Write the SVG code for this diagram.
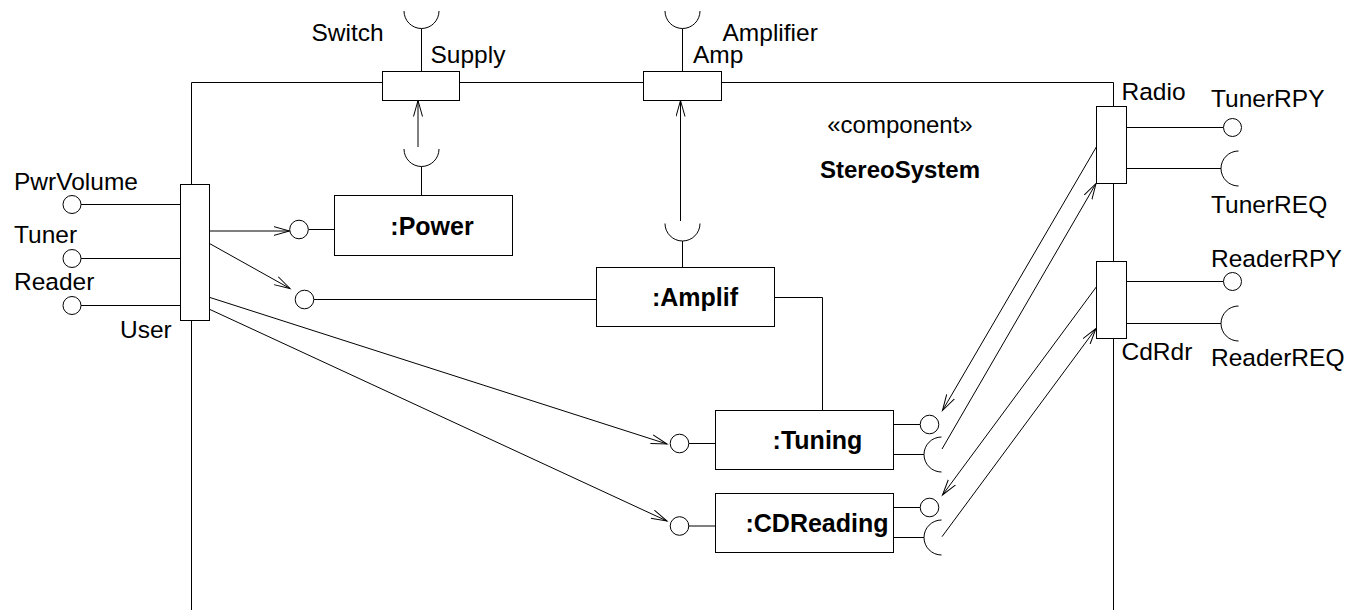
<svg xmlns="http://www.w3.org/2000/svg" width="1350" height="610" viewBox="0 0 1350 610">
  <style>
    .ln { fill: none; stroke: #000; stroke-width: 1; }
    .bx { fill: #fff; stroke: #000; stroke-width: 1; }
    .lol { fill: #fff; stroke: #000; stroke-width: 1; }
    .lbl { font-family: "Liberation Sans", Arial, Helvetica, sans-serif; font-size: 24.5px; fill: #000; }
    .nm { font-family: "Liberation Sans", Arial, Helvetica, sans-serif; font-size: 25px; font-weight: bold; fill: #000; }
    .ttl { font-size: 24px; }
    .mid { text-anchor: middle; }
  </style>
  <defs>
    <!-- open (stick) arrowhead used for delegation connectors -->
    <marker id="open" markerUnits="userSpaceOnUse" markerWidth="20" markerHeight="12" refX="16" refY="5" orient="auto">
      <path d="M0,0.5 L16,5 L0,9.5" fill="none" stroke="#000" stroke-width="1"/>
    </marker>
  </defs>

  <rect x="0" y="0" width="1350" height="610" fill="#fff"/>

  <!-- StereoSystem component boundary -->
  <g id="stereo-system">
    <path class="ln" d="M191.5,610 V82.5 H1113.5 V610"/>
    <text class="lbl ttl mid" x="900" y="133">«component»</text>
    <text class="nm ttl mid" x="900" y="178">StereoSystem</text>
  </g>

  <!-- connectors -->
  <g id="connectors">
    <!-- User port delegations -->
    <path class="ln" d="M209.5,231 L289.5,231" marker-end="url(#open)"/>
    <path class="ln" d="M209.5,243.5 L290,288.5" marker-end="url(#open)"/>
    <path class="ln" d="M210,297.5 L667,444" marker-end="url(#open)"/>
    <path class="ln" d="M210,309.5 L667,521" marker-end="url(#open)"/>
    <!-- required interfaces up to boundary ports -->
    <path class="ln" d="M418,147 V100.5" marker-end="url(#open)"/>
    <path class="ln" d="M680.5,221 V100.5" marker-end="url(#open)"/>
    <!-- Radio / CdRdr delegations -->
    <path class="ln" d="M1096.5,146.7 L942.5,410.5" marker-end="url(#open)"/>
    <path class="ln" d="M942,449 L1096,183.5" marker-end="url(#open)"/>
    <path class="ln" d="M1096.5,286.7 L942.5,495" marker-end="url(#open)"/>
    <path class="ln" d="M942,536.7 L1096,328.5" marker-end="url(#open)"/>
    <!-- Amplif to Tuning assembly -->
    <path class="ln" d="M774.5,297.5 H822.5 V410.5"/>
  </g>

  <!-- boundary ports with external interfaces -->
  <g id="port-supply">
    <path class="ln" d="M421.5,71.5 V28.5"/>
    <path class="ln" d="M404,11 A17.5,17.5 0 0 0 439,11"/>
    <rect class="bx" x="382.5" y="71.5" width="77" height="29"/>
    <text class="lbl" x="311.5" y="41">Switch</text>
    <text class="lbl" x="430.5" y="63">Supply</text>
  </g>

  <g id="port-amp">
    <path class="ln" d="M682.5,71.5 V28.5"/>
    <path class="ln" d="M665,11 A17.5,17.5 0 0 0 700,11"/>
    <rect class="bx" x="643.5" y="71.5" width="78" height="29"/>
    <text class="lbl" x="722.5" y="41">Amplifier</text>
    <text class="lbl" x="693" y="63">Amp</text>
  </g>

  <g id="port-user">
    <path class="ln" d="M81,204.5 H180.5 M81,258.5 H180.5 M81,305.5 H180.5"/>
    <circle class="lol" cx="72" cy="204.5" r="9"/>
    <circle class="lol" cx="72" cy="258.5" r="9"/>
    <circle class="lol" cx="72" cy="305.5" r="9"/>
    <rect class="bx" x="180.5" y="184.5" width="29" height="136"/>
    <text class="lbl" x="14" y="190">PwrVolume</text>
    <text class="lbl" x="14" y="243">Tuner</text>
    <text class="lbl" x="14" y="290">Reader</text>
    <text class="lbl" x="120" y="338">User</text>
  </g>

  <g id="port-radio">
    <path class="ln" d="M1126.5,127.5 H1223.5 M1126.5,168.5 H1221"/>
    <circle class="lol" cx="1232.5" cy="127.5" r="9"/>
    <path class="ln" d="M1238.5,151 A17.5,17.5 0 0 0 1238.5,186"/>
    <rect class="bx" x="1096.5" y="106.5" width="30" height="77"/>
    <text class="lbl" x="1121.5" y="100">Radio</text>
    <text class="lbl" x="1211" y="106.5">TunerRPY</text>
    <text class="lbl" x="1211" y="213">TunerREQ</text>
  </g>

  <g id="port-cdrdr">
    <path class="ln" d="M1126.5,281.5 H1223.5 M1126.5,323.5 H1221"/>
    <circle class="lol" cx="1232.5" cy="281.5" r="9"/>
    <path class="ln" d="M1238.5,306 A17.5,17.5 0 0 0 1238.5,341"/>
    <rect class="bx" x="1096.5" y="261.5" width="30" height="77"/>
    <text class="lbl" x="1121.5" y="360">CdRdr</text>
    <text class="lbl" x="1211" y="267">ReaderRPY</text>
    <text class="lbl" x="1211" y="366">ReaderREQ</text>
  </g>

  <!-- internal parts -->
  <g id="part-power">
    <path class="ln" d="M308.5,229.5 H334.5"/>
    <circle class="lol" cx="299" cy="229.5" r="9.3"/>
    <path class="ln" d="M421.5,166.5 V195.5"/>
    <path class="ln" d="M404,149 A17.5,17.5 0 0 0 439,149"/>
    <rect class="bx" x="334.5" y="195.5" width="178" height="60"/>
    <text class="nm mid" x="432" y="234.5">:Power</text>
  </g>

  <g id="part-amplif">
    <path class="ln" d="M314,299.5 H596.5"/>
    <circle class="lol" cx="304.5" cy="299.5" r="9.3"/>
    <path class="ln" d="M682.5,241 V267.5"/>
    <path class="ln" d="M665,223.5 A17.5,17.5 0 0 0 700,223.5"/>
    <rect class="bx" x="596.5" y="267.5" width="178" height="59"/>
    <text class="nm mid" x="695" y="306">:Amplif</text>
  </g>

  <g id="part-tuning">
    <path class="ln" d="M689,443.5 H715.5"/>
    <circle class="lol" cx="679.5" cy="443.5" r="9.3"/>
    <path class="ln" d="M893.5,424.5 H920 M893.5,454.5 H924"/>
    <circle class="lol" cx="929.5" cy="424.5" r="9.3"/>
    <path class="ln" d="M941.5,437 A17.5,17.5 0 0 0 941.5,472"/>
    <rect class="bx" x="715.5" y="410.5" width="178" height="59"/>
    <text class="nm mid" x="817.5" y="448.5">:Tuning</text>
  </g>

  <g id="part-cdreading">
    <path class="ln" d="M689,526 H715.5"/>
    <circle class="lol" cx="679.5" cy="526" r="9.3"/>
    <path class="ln" d="M893.5,507.5 H920 M893.5,537.5 H924"/>
    <circle class="lol" cx="929.5" cy="507.5" r="9.3"/>
    <path class="ln" d="M941.5,520 A17.5,17.5 0 0 0 941.5,555"/>
    <rect class="bx" x="715.5" y="493.5" width="178" height="59"/>
    <text class="nm mid" x="817" y="531.5">:CDReading</text>
  </g>
</svg>
